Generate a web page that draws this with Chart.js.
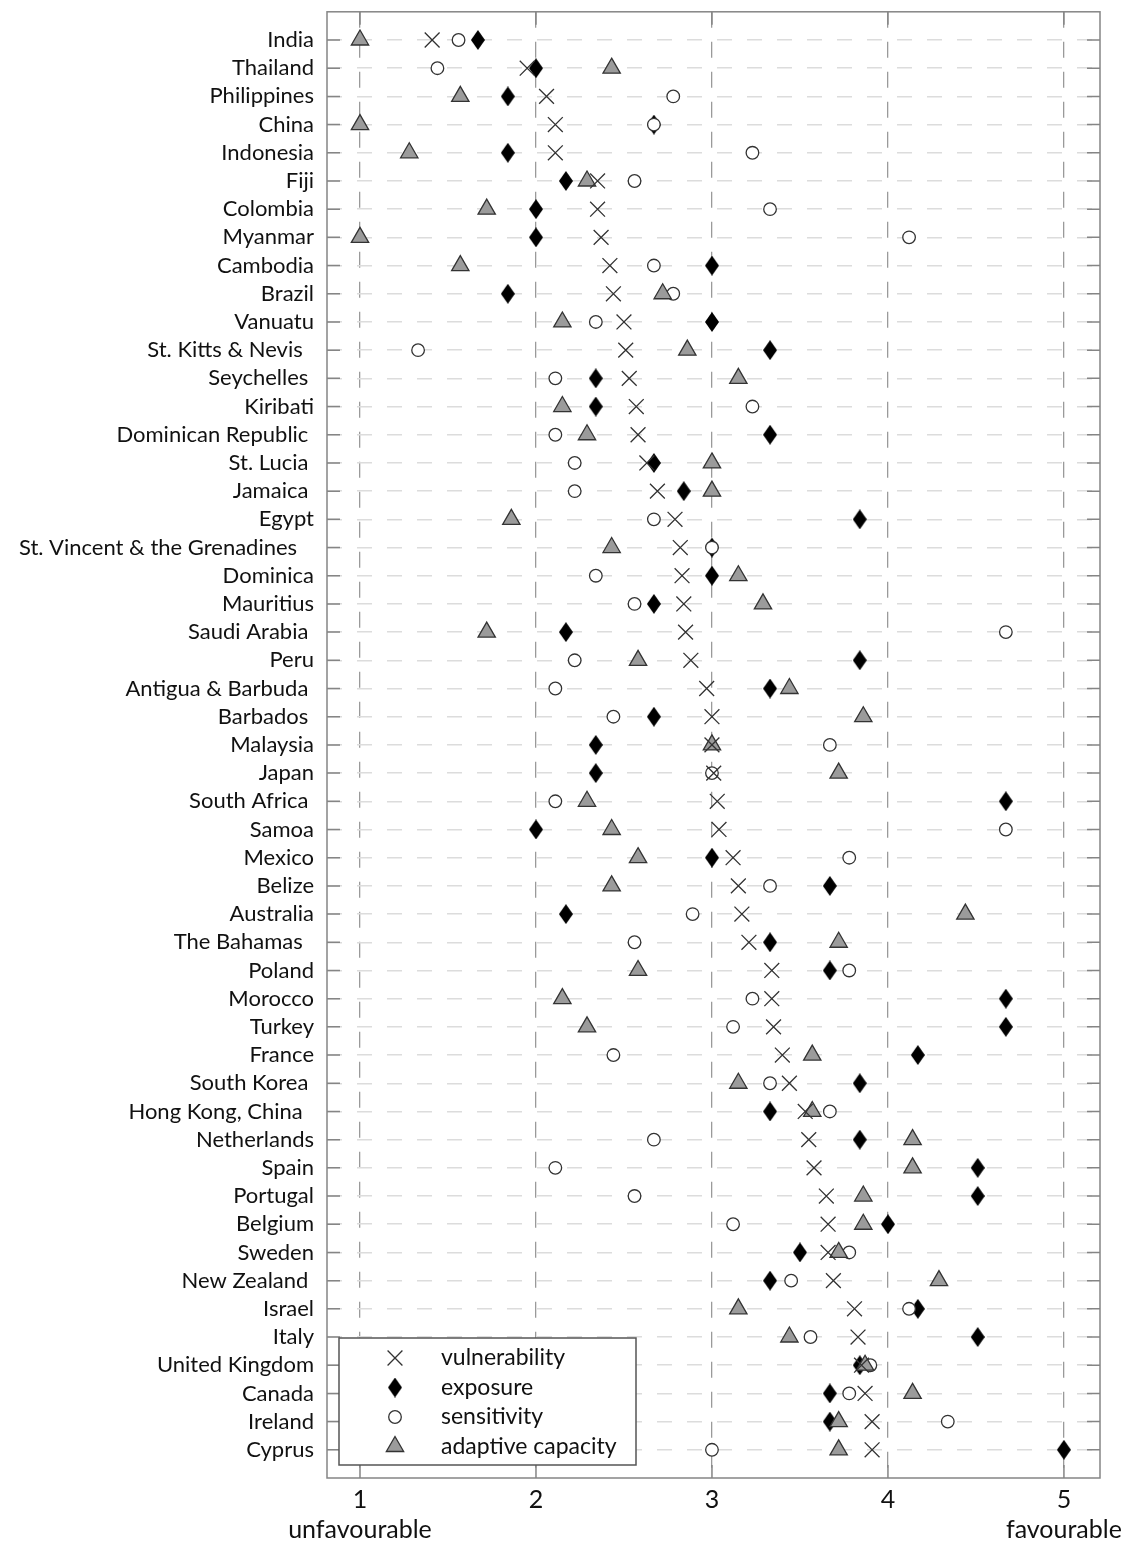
<!DOCTYPE html>
<html lang="en">
<head>
<meta charset="UTF-8">
<title>Vulnerability components by country</title>
<style>
    html, body { margin: 0; padding: 0; background: #fff; }
    #wrap { width: 1126px; height: 1542px; }
</style>
</head>
<body>
<div id="wrap"><canvas id="chart" width="1126" height="1542"></canvas></div>

<script src="https://cdn.jsdelivr.net/npm/chart.js"></script>
<script>
// rows, top to bottom (trailing spaces kept as in the original labels)
const countries = [
    'India', 'Thailand', 'Philippines', 'China', 'Indonesia', 'Fiji', 'Colombia', 'Myanmar',
    'Cambodia', 'Brazil', 'Vanuatu', 'St. Kitts & Nevis  ', 'Seychelles ', 'Kiribati',
    'Dominican Republic ', 'St. Lucia ', 'Jamaica ', 'Egypt', 'St. Vincent & the Grenadines   ',
    'Dominica', 'Mauritius', 'Saudi Arabia ', 'Peru', 'Antigua & Barbuda ', 'Barbados ',
    'Malaysia', 'Japan', 'South Africa ', 'Samoa', 'Mexico', 'Belize', 'Australia',
    'The Bahamas  ', 'Poland', 'Morocco', 'Turkey', 'France', 'South Korea ', 'Hong Kong, China  ',
    'Netherlands', 'Spain', 'Portugal', 'Belgium', 'Sweden', 'New Zealand ', 'Israel', 'Italy',
    'United Kingdom', 'Canada', 'Ireland', 'Cyprus'
];

const vulnerability = [
    1.41, 1.95, 2.06, 2.11, 2.11, 2.35, 2.35, 2.37, 2.42, 2.44,
    2.50, 2.51, 2.53, 2.57, 2.58, 2.63, 2.69, 2.79, 2.82, 2.83,
    2.84, 2.85, 2.88, 2.97, 3.00, 3.00, 3.01, 3.03, 3.04, 3.12,
    3.15, 3.17, 3.21, 3.34, 3.34, 3.35, 3.40, 3.44, 3.53, 3.55,
    3.58, 3.65, 3.66, 3.66, 3.69, 3.81, 3.83, 3.85, 3.87, 3.91, 3.91
];
const exposure = [
    1.67, 2.00, 1.84, 2.67, 1.84, 2.17, 2.00, 2.00, 3.00, 1.84,
    3.00, 3.33, 2.34, 2.34, 3.33, 2.67, 2.84, 3.84, 3.00, 3.00,
    2.67, 2.17, 3.84, 3.33, 2.67, 2.34, 2.34, 4.67, 2.00, 3.00,
    3.67, 2.17, 3.33, 3.67, 4.67, 4.67, 4.17, 3.84, 3.33, 3.84,
    4.51, 4.51, 4.00, 3.50, 3.33, 4.17, 4.51, 3.84, 3.67, 3.67, 5.00
];
const sensitivity = [
    1.56, 1.44, 2.78, 2.67, 3.23, 2.56, 3.33, 4.12, 2.67, 2.78,
    2.34, 1.33, 2.11, 3.23, 2.11, 2.22, 2.22, 2.67, 3.00, 2.34,
    2.56, 4.67, 2.22, 2.11, 2.44, 3.67, 3.00, 2.11, 4.67, 3.78,
    3.33, 2.89, 2.56, 3.78, 3.23, 3.12, 2.44, 3.33, 3.67, 2.67,
    2.11, 2.56, 3.12, 3.78, 3.45, 4.12, 3.56, 3.90, 3.78, 4.34, 3.00
];
const adaptiveCapacity = [
    1.00, 2.43, 1.57, 1.00, 1.28, 2.29, 1.72, 1.00, 1.57, 2.72,
    2.15, 2.86, 3.15, 2.15, 2.29, 3.00, 3.00, 1.86, 2.43, 3.15,
    3.29, 1.72, 2.58, 3.44, 3.86, 3.00, 3.72, 2.29, 2.43, 2.58,
    2.43, 4.44, 3.72, 2.58, 2.15, 2.29, 3.57, 3.15, 3.57, 4.14,
    4.14, 3.86, 3.86, 3.72, 4.29, 3.15, 3.44, 3.87, 4.14, 3.72, 3.72
];

const xTicks = [1, 2, 3, 4, 5];
const xEndLabels = { 1: 'unfavourable', 5: 'favourable' };

const FONT = 'Lato';
const INK = '#111';

function toPoints(values) {
    return values.map((v, i) => ({ x: v, y: i + 1 }));
}

// tall black diamond for the exposure marker
function makeDiamond(w, h) {
    const c = document.createElement('canvas');
    c.width = w;
    c.height = h;
    const g = c.getContext('2d');
    g.fillStyle = '#000';
    g.beginPath();
    g.moveTo(w / 2, 0);
    g.lineTo(w, h / 2);
    g.lineTo(w / 2, h);
    g.lineTo(0, h / 2);
    g.closePath();
    g.fill();
    return c;
}
const diamond = makeDiamond(14, 20);

// index 0 is drawn last, so the crosses sit on top
const datasets = [
    {
        label: 'vulnerability', data: toPoints(vulnerability),
        pointStyle: 'crossRot', pointRadius: 10.5, pointBorderWidth: 1.3,
        borderColor: '#333', backgroundColor: '#333'
    },
    {
        label: 'adaptive capacity', data: toPoints(adaptiveCapacity),
        pointStyle: 'triangle', pointRadius: 10, pointBorderWidth: 1.3,
        borderColor: '#333', backgroundColor: '#9b9b9b'
    },
    {
        label: 'sensitivity', data: toPoints(sensitivity),
        pointStyle: 'circle', pointRadius: 6.3, pointBorderWidth: 1.3,
        borderColor: '#333', backgroundColor: '#fff'
    },
    {
        label: 'exposure', data: toPoints(exposure),
        pointStyle: diamond, pointRadius: 10, pointBorderWidth: 0,
        borderColor: '#000', backgroundColor: '#000'
    }
];
const legendOrder = ['vulnerability', 'exposure', 'sensitivity', 'adaptive capacity'];

// frame, inward tick marks and the boxed legend
const framePlugin = {
    id: 'frame',
    beforeDatasetsDraw(chart) {
        const { ctx, chartArea: a, scales } = chart;
        ctx.save();
        ctx.strokeStyle = '#858585';
        ctx.lineWidth = 1.5;
        ctx.beginPath();
        countries.forEach((c, i) => {
            const y = scales.y.getPixelForValue(i + 1);
            ctx.moveTo(a.left, y); ctx.lineTo(a.left + 13, y);
            ctx.moveTo(a.right, y); ctx.lineTo(a.right - 13, y);
        });
        xTicks.forEach(v => {
            const x = scales.x.getPixelForValue(v);
            ctx.moveTo(x, a.top); ctx.lineTo(x, a.top + 13);
            ctx.moveTo(x, a.bottom); ctx.lineTo(x, a.bottom - 13);
        });
        ctx.stroke();
        ctx.strokeRect(a.left, a.top, a.right - a.left, a.bottom - a.top);
        ctx.restore();
    },
    afterDatasetsDraw(chart) {
        const { ctx, chartArea: a } = chart;
        const box = { x: a.left + 12, y: 1338, w: 297, h: 127 };
        ctx.save();
        ctx.fillStyle = '#fff';
        ctx.fillRect(box.x, box.y, box.w, box.h);
        ctx.strokeStyle = '#555';
        ctx.lineWidth = 1.5;
        ctx.strokeRect(box.x, box.y, box.w, box.h);
        ctx.font = '23px ' + FONT;
        ctx.textBaseline = 'middle';
        legendOrder.forEach((name, i) => {
            const ds = datasets.find(d => d.label === name);
            const y = box.y + 20 + i * 29.5;
            ctx.fillStyle = ds.backgroundColor;
            ctx.strokeStyle = ds.borderColor;
            ctx.lineWidth = ds.pointBorderWidth;
            Chart.helpers.drawPoint(ctx, {
                pointStyle: ds.pointStyle, radius: ds.pointRadius,
                rotation: 0, borderWidth: ds.pointBorderWidth
            }, box.x + 56, y);
            ctx.fillStyle = INK;
            ctx.fillText(name, box.x + 102, y);
        });
        ctx.restore();
    }
};

new Chart(document.getElementById('chart'), {
    type: 'scatter',
    data: { datasets: datasets },
    options: {
        responsive: false,
        animation: false,
        layout: { padding: { top: 10, right: 26, left: 0, bottom: 0 } },
        plugins: { legend: { display: false }, tooltip: { enabled: false } },
        scales: {
            x: {
                type: 'linear', min: 0.8125, max: 5.205,
                afterBuildTicks: scale => { scale.ticks = xTicks.map(v => ({ value: v })); },
                afterFit: scale => {
                    scale.height = 64;
                    scale.paddingLeft = 0;
                    scale.paddingRight = 0;
                },
                grid: { color: '#9a9a9a', lineWidth: 1.3, drawTicks: false },
                border: { display: false, dash: [16, 14] },
                ticks: {
                    padding: 7, color: INK, maxRotation: 0,
                    font: { family: FONT, size: 25, lineHeight: 1.2 },
                    callback: v => xEndLabels[v] ? [String(v), xEndLabels[v]] : String(v)
                }
            },
            y: {
                type: 'linear', min: 0, max: countries.length + 1, reverse: true,
                afterBuildTicks: scale => { scale.ticks = countries.map((c, i) => ({ value: i + 1 })); },
                afterFit: scale => {
                    scale.width = 327;
                    scale.paddingTop = 0;
                    scale.paddingBottom = 0;
                },
                grid: { color: '#dcdcdc', lineWidth: 1.5, drawTicks: false },
                border: { display: false, dash: [15, 15] },
                ticks: {
                    padding: 13, color: INK, autoSkip: false,
                    font: { family: FONT, size: 22 },
                    callback: (v, i) => countries[i]
                }
            }
        }
    },
    plugins: [framePlugin]
});
</script>
</body>
</html>
